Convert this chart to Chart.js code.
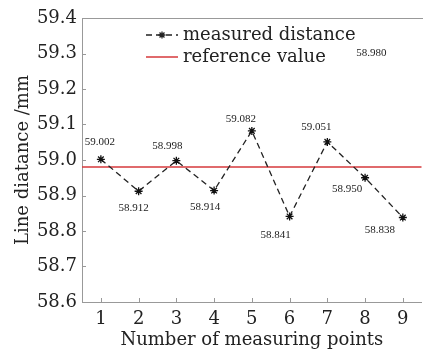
<!DOCTYPE html>
<html><head><meta charset="utf-8">
<script src="https://cdn.jsdelivr.net/npm/chart.js@4.4.0/dist/chart.umd.min.js"></script>
<style>html,body{margin:0;padding:0;background:#fff;overflow:hidden}#wrap{width:427px;height:352px;position:relative}</style>
</head><body><div id="wrap"><canvas id="c"></canvas></div>
<script>
const categories = [1, 2, 3, 4, 5, 6, 7, 8, 9];
const measured = [59.002, 58.912, 58.998, 58.914, 59.082, 58.841, 59.051, 58.950, 58.838];
const referenceValue = 58.980;
const yTickValues = [58.6, 58.7, 58.8, 58.9, 59.0, 59.1, 59.2, 59.3, 59.4];
const xRange = [0.5, 9.5];
const seriesNames = ['measured distance', 'reference value'];

const FONT = '"DejaVu Serif", serif';
const AXIS = '#999';
const INK = '#222';
const RED = '#d6383b';

// label placement (pixel offsets from each point), style only
const labelOffsets = [[-1,-17],[-5,17],[-9,-15],[-9,17],[-11,-12],[-14,19],[-11,-15],[-18,11],[-23,13]];

const extras = {
  id: 'extras',
  afterDatasetsDraw(chart) {
    const {ctx, chartArea: a, scales: {x, y}} = chart;
    ctx.save();
    // top frame line
    ctx.strokeStyle = AXIS; ctx.lineWidth = 1;
    ctx.beginPath(); ctx.moveTo(a.left, a.top + 0.5); ctx.lineTo(a.right + 5, a.top + 0.5); ctx.stroke();
    // inner ticks
    ctx.beginPath();
    y.ticks.forEach(t => { const py = Math.round(y.getPixelForValue(t.value)) + 0.5; ctx.moveTo(a.left, py); ctx.lineTo(a.left + 4, py); });
    x.ticks.forEach(t => { const px = Math.round(x.getPixelForValue(t.value)) + 0.5; ctx.moveTo(px, a.bottom); ctx.lineTo(px, a.bottom - 4); });
    ctx.stroke();
    // data labels
    ctx.fillStyle = INK;
    ctx.font = '11px "Liberation Serif", serif';
    ctx.textAlign = 'center'; ctx.textBaseline = 'middle';
    const meta = chart.getDatasetMeta(0);
    meta.data.forEach((p, i) => {
      const o = labelOffsets[i];
      ctx.fillText(measured[i].toFixed(3), p.x + o[0], p.y + o[1]);
    });
    ctx.fillText(referenceValue.toFixed(3), x.getPixelForValue(8.17), y.getPixelForValue(59.30));
    // legend
    const lx = a.left + 64, lx2 = a.left + 96, ly1 = a.top + 17, ly2 = a.top + 39;
    ctx.strokeStyle = INK; ctx.lineWidth = 1.3; ctx.setLineDash([6, 4]);
    ctx.beginPath(); ctx.moveTo(lx, ly1); ctx.lineTo(lx2, ly1); ctx.stroke();
    ctx.setLineDash([]);
    Chart.helpers.drawPoint(ctx, {pointStyle: 'star', radius: 3.5, borderWidth: 1.2}, (lx + lx2) / 2, ly1);
    ctx.strokeStyle = RED; ctx.lineWidth = 1.5;
    ctx.beginPath(); ctx.moveTo(lx, ly2); ctx.lineTo(lx2, ly2); ctx.stroke();
    ctx.fillStyle = INK; ctx.font = '18px ' + FONT; ctx.textAlign = 'left';
    ctx.fillText(seriesNames[0], lx2 + 5, ly1);
    ctx.fillText(seriesNames[1], lx2 + 5, ly2);
    ctx.restore();
  }
};

new Chart(document.getElementById('c'), {
  type: 'line',
  data: {
    datasets: [
      {
        label: seriesNames[0],
        data: categories.map((c, i) => ({x: c, y: measured[i]})),
        borderColor: INK, borderWidth: 1.3, borderDash: [6, 4], tension: 0,
        pointStyle: 'star', pointRadius: 4, pointBorderColor: '#111', pointBorderWidth: 1.3,
        pointBackgroundColor: '#111', fill: false
      },
      {
        label: seriesNames[1],
        data: xRange.map(v => ({x: v, y: referenceValue})),
        borderColor: RED, borderWidth: 1.5, pointRadius: 0, fill: false
      }
    ]
  },
  options: {
    responsive: true, maintainAspectRatio: false, animation: false,
    layout: {padding: {top: 18, right: 1, left: 0, bottom: 0}},
    plugins: {legend: {display: false}, tooltip: {enabled: false}},
    scales: {
      x: {
        type: 'linear', min: xRange[0], max: xRange[1],
        afterBuildTicks: s => { s.ticks = categories.map(v => ({value: v})); },
        afterFit: s => { s.height = 50; },
        grid: {display: true, drawOnChartArea: false, drawTicks: false},
        border: {color: AXIS, width: 1},
        ticks: {color: INK, font: {family: FONT, size: 18}, padding: 7, maxRotation: 0, autoSkip: false, callback: v => String(v)},
        title: {display: true, text: 'Number of measuring points', color: INK, font: {family: FONT, size: 18}, padding: {top: 0, bottom: 1}}
      },
      y: {
        min: yTickValues[0], max: yTickValues[yTickValues.length - 1],
        afterBuildTicks: s => { s.ticks = yTickValues.map(v => ({value: v})); },
        afterFit: s => { s.width = 82; },
        grid: {display: true, drawOnChartArea: false, drawTicks: false},
        border: {color: AXIS, width: 1},
        ticks: {color: INK, font: {family: FONT, size: 18}, padding: 5, autoSkip: false, callback: v => Number(v).toFixed(1)},
        title: {display: true, text: 'Line diatance /mm', color: INK, font: {family: FONT, size: 18}, padding: {top: 13, bottom: 0}}
      }
    }
  },
  plugins: [extras]
});
</script></body></html>
